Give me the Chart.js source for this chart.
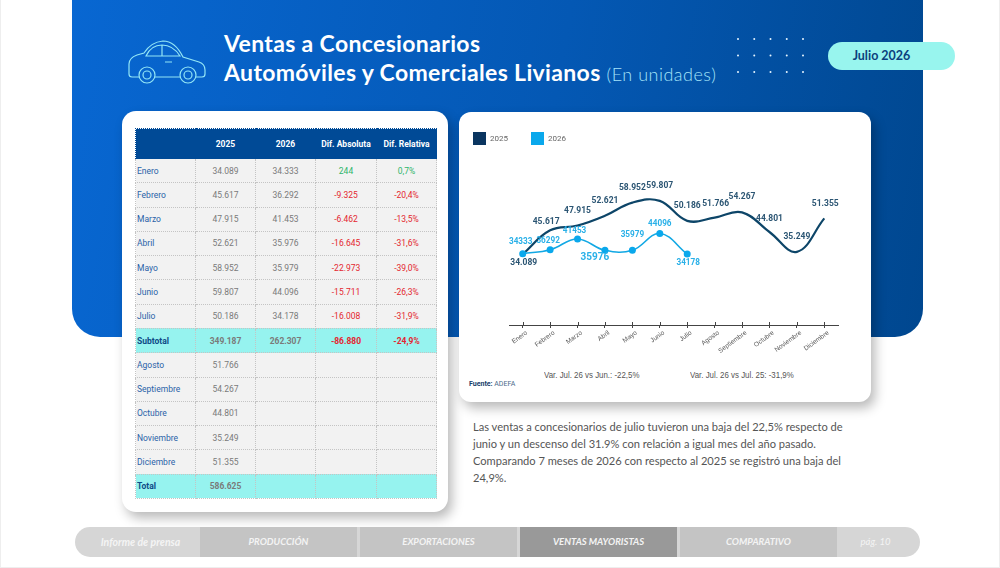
<!DOCTYPE html>
<html lang="es">
<head>
<meta charset="UTF-8">
<title>Ventas a Concesionarios</title>
<style>
    html, body { margin: 0; padding: 0; background: #fff; }
    #page { position: relative; width: 1000px; height: 568px; overflow: hidden; box-sizing: border-box; border: 1px solid #eee; border-top: none; }
    #page > * { position: absolute; }

    /* blue header block */
    #band { left: 71px; top: 0; width: 851px; height: 337px; border-radius: 0 0 28px 28px; background: linear-gradient(100deg, #0867d2 0%, #0458b4 55%, #00478f 100%); }
    #title { left: 223px; top: 29px; color: #fff; font: 700 23px/29px Lato, sans-serif; white-space: nowrap; letter-spacing: .35px; }
    #title span { font-weight: 300; font-size: 18px; color: #a6e4fa; letter-spacing: .5px; }
    #pill { left: 827px; top: 42px; width: 107px; padding-right: 20px; height: 28px; border-radius: 14px; background: #98f5ee; color: #0b3f7d; font: 700 12.5px/28px Lato, sans-serif; text-align: center; }

    .card { background: #fff; box-shadow: 4px 6px 12px rgba(0,0,0,.28); }
    #tableCard { left: 121px; top: 111px; width: 326px; height: 401px; border-radius: 14px; }
    #chartCard { left: 458px; top: 112px; width: 412px; height: 290px; border-radius: 12px; }

    #tabla { left: 134px; top: 128px; width: 301px; border-collapse: collapse; table-layout: fixed; font: 8.5px Roboto, sans-serif; color: #7a7a7a; }
    #tabla td, #tabla th { border: 1px dotted #c4c4c4; text-align: center; padding: 0; background: #f2f2f2; height: 24.29px; box-sizing: border-box; }
    #tabla th { background: #004a96; color: #fff; font-weight: 700; border-color: #004a96; height: 30px; }
    #tabla td:first-child { text-align: left; padding-left: 1px; color: #2a62a8; }
    #tabla tr.sum td { background: #96f3ef; font-weight: 700; }
    #tabla tr.sum td:first-child { color: #0d4a86; }
    #tabla .neg { color: #e4262f; }
    #tabla .pos { color: #2fb56a; }

    #grafico { left: 449px; top: 109px; }
    .var { font: 9.5px "Liberation Sans", sans-serif; color: #555; white-space: nowrap; transform: scaleX(.83); transform-origin: left top; }
    #fuente { left: 468px; top: 380px; font: 7px Roboto, sans-serif; color: #4a6a8a; white-space: nowrap; }
    #fuente b { color: #17406b; }
    #texto { left: 472px; top: 418px; font: 11.1px/17px Lato, sans-serif; color: #555; white-space: nowrap; }

    /* footer nav */
    #nav { left: 74px; top: 527px; width: 845px; height: 30px; border-radius: 15px; overflow: hidden; background: #d6d6d6; }
    #nav div { position: absolute; top: 0; height: 30px; font: italic 700 9.5px/30px Lato, sans-serif; color: #f4f4f4; text-align: center; background: #c4c4c4; }
</style>
</head>
<body>
<div id="page">
    <div id="band"></div>

    <svg style="left:0;top:0" width="230" height="100" fill="none" stroke="#93e6f6" stroke-width="1.2">
        <path d="M138 77H131Q128 77 128 74V64Q128 58 136 55L143 53Q150 42 162 41Q174 41 182 57L198 62Q204 64 204 70V74Q204 77 201 77H195M179 77H154"/>
        <path d="M145 56Q150 45 161 45Q172 45 179 56ZM161 45V56M164 62H171"/>
        <circle cx="146" cy="75" r="8"/><circle cx="146" cy="75" r="4"/>
        <circle cx="187" cy="75" r="8"/><circle cx="187" cy="75" r="4"/>
    </svg>

    <div id="title">Ventas a Concesionarios<br>Automóviles y Comerciales Livianos <span>(En unidades)</span></div>
    <svg id="dots" style="left:729px;top:30px" width="85" height="50"></svg>
    <div id="pill">Julio 2026</div>

    <div id="tableCard" class="card"></div>
    <table id="tabla">
        <colgroup><col style="width:60px"><col style="width:60px"><col style="width:60px"><col style="width:61px"><col style="width:60px"></colgroup>
        <thead><tr><th></th><th>2025</th><th>2026</th><th>Dif. Absoluta</th><th>Dif. Relativa</th></tr></thead>
        <tbody id="filas"></tbody>
    </table>

    <div id="chartCard" class="card"></div>
    <canvas id="grafico" width="421" height="251"></canvas>
    <div class="var" style="left:543px;top:369px">Var. Jul. 26 vs Jun.: -22,5%</div>
    <div class="var" style="left:689px;top:369px">Var. Jul. 26 vs Jul. 25: -31,9%</div>
    <div id="fuente"><b>Fuente:</b> ADEFA</div>

    <div id="texto">Las ventas a concesionarios de julio tuvieron una baja del 22,5% respecto de<br>junio y un descenso del 31.9% con relación a igual mes del año pasado.<br>Comparando 7 meses de 2026 con respecto al 2025 se registró una baja del<br>24,9%.</div>

    <div id="nav">
        <div style="left:0;width:131px;background:none;font-size:10.5px">Informe de prensa</div>
        <div style="left:125px;width:157px">PRODUCCIÓN</div>
        <div style="left:285px;width:157px">EXPORTACIONES</div>
        <div style="left:445px;width:157px;background:#999">VENTAS MAYORISTAS</div>
        <div style="left:605px;width:157px">COMPARATIVO</div>
        <div style="left:762px;width:77px;background:none;font-weight:400">pág. 10</div>
    </div>
</div>

<script src="https://cdn.jsdelivr.net/npm/chart.js"></script>
<script>
    const months = ["Enero", "Febrero", "Marzo", "Abril", "Mayo", "Junio", "Julio", "Agosto", "Septiembre", "Octubre", "Noviembre", "Diciembre"];
    const ventas2025 = [34089, 45617, 47915, 52621, 58952, 59807, 50186, 51766, 54267, 44801, 35249, 51355];
    const ventas2026 = [34333, 36292, 41453, 35976, 35979, 44096, 34178, null, null, null, null, null];
    const difAbsoluta = [244, -9325, -6462, -16645, -22973, -15711, -16008];
    const difRelativa = ["0,7%", "-20,4%", "-13,5%", "-31,6%", "-39,0%", "-26,3%", "-31,9%"];
    const subtotal = ["349.187", "262.307", "-86.880", "-24,9%"];
    const total2025 = "586.625";

    // label nudges from each point, in px
    const offsets2025 = [[1, 9], [-4, -8], [0, -15], [0, -15], [0, -15], [0, -15], [0, -15], [1, -14], [0, -15], [0, -13], [0, -15], [1, -15]];
    const offsets2026 = [[-2, -12], [-2, -9], [-3, -8], [-10, 7], [0, -15], [0, -10], [1, 9]];

    function puntos(n) {
        return String(n).replace(/\B(?=(\d{3})+$)/g, ".");
    }

    // table rows
    const filas = document.getElementById("filas");
    function addRow(cells, cls) {
        const tr = document.createElement("tr");
        if (cls) tr.className = cls;
        cells.forEach(c => {
            const td = document.createElement("td");
            td.textContent = c.text !== undefined ? c.text : c;
            if (c.cls) td.className = c.cls;
            tr.appendChild(td);
        });
        filas.appendChild(tr);
    }
    months.forEach((m, i) => {
        if (i < 7) {
            const cls = difAbsoluta[i] < 0 ? "neg" : "pos";
            addRow([m, puntos(ventas2025[i]), puntos(ventas2026[i]), { text: puntos(difAbsoluta[i]), cls: cls }, { text: difRelativa[i], cls: cls }]);
        } else {
            addRow([m, puntos(ventas2025[i]), "", "", ""]);
        }
        if (i === 6) {
            addRow(["Subtotal", subtotal[0], subtotal[1], { text: subtotal[2], cls: "neg" }, { text: subtotal[3], cls: "neg" }], "sum");
        }
    });
    addRow(["Total", total2025, "", "", ""], "sum");

    // header dots
    let dots = "";
    for (let r = 0; r < 3; r++) {
        for (let c = 0; c < 5; c++) {
            dots += `<circle cx="${8 + c * 16.25}" cy="${9 + r * 16.5}" r="1" fill="#e8f6ff"/>`;
        }
    }
    document.getElementById("dots").innerHTML = dots;

    // draws the value labels and the upper half of the axis ticks
    const labelsPlugin = {
        id: "valueLabels",
        afterDatasetsDraw(chart) {
            const ctx = chart.ctx;
            const x = chart.scales.x, y = chart.scales.y;
            ctx.save();
            ctx.strokeStyle = "#444";
            months.forEach((m, i) => {
                const px = Math.round(x.getPixelForValue(i)) + 0.5;
                ctx.beginPath();
                ctx.moveTo(px, y.bottom - 3);
                ctx.lineTo(px, y.bottom);
                ctx.stroke();
            });
            ctx.textAlign = "center";
            ctx.textBaseline = "middle";
            ctx.font = "700 8.5px Roboto";
            ctx.fillStyle = "#2b5573";
            ventas2025.forEach((v, i) => {
                ctx.fillText(puntos(v), x.getPixelForValue(i) + offsets2025[i][0], y.getPixelForValue(v) + offsets2025[i][1]);
            });
            ctx.fillStyle = "#29b0e8";
            offsets2026.forEach((o, i) => {
                ctx.font = i === 3 ? "700 10px Roboto" : "700 8.2px Roboto";
                ctx.fillText(String(ventas2026[i]), x.getPixelForValue(i) + o[0], y.getPixelForValue(ventas2026[i]) + o[1]);
            });
            ctx.restore();
        }
    };

    new Chart(document.getElementById("grafico"), {
        type: "line",
        data: {
            labels: months,
            datasets: [
                { label: "2025", data: ventas2025, borderColor: "#0d4568", backgroundColor: "#0a3560", borderWidth: 2.2, pointRadius: 0, tension: 0.4, order: 2 },
                { label: "2026", data: ventas2026, borderColor: "#12a8e4", backgroundColor: "#0aa8ec", borderWidth: 1.6, pointRadius: 3.5, pointBackgroundColor: "#0aa8ec", pointBorderWidth: 0, tension: 0.4, order: 1 }
            ]
        },
        options: {
            responsive: false,
            animation: false,
            layout: { padding: { right: 33 } },
            plugins: {
                tooltip: { enabled: false },
                legend: {
                    position: "top",
                    align: "start",
                    labels: {
                        boxWidth: 13,
                        boxHeight: 13,
                        padding: 23,
                        color: "#666",
                        font: { size: 8, family: "Roboto" },
                        sort: (a, b) => a.datasetIndex - b.datasetIndex,
                        generateLabels(chart) {
                            return Chart.defaults.plugins.legend.labels.generateLabels(chart).map(l => Object.assign(l, { lineWidth: 0 }));
                        }
                    }
                }
            },
            scales: {
                x: {
                    offset: true,
                    afterFit(s) { s.height = 35; },
                    grid: { drawOnChartArea: false, tickLength: 3, color: "#444" },
                    border: { color: "#444" },
                    ticks: { color: "#555", minRotation: 36, maxRotation: 36, padding: 1, labelOffset: 4, autoSkip: false, font: { size: 6.5, family: "Liberation Sans" } }
                },
                y: {
                    min: 0,
                    max: 81900,
                    afterFit(s) { s.width = 59; },
                    grid: { display: false },
                    border: { display: false },
                    ticks: { display: false }
                }
            }
        },
        plugins: [labelsPlugin]
    });
</script>
</body>
</html>
